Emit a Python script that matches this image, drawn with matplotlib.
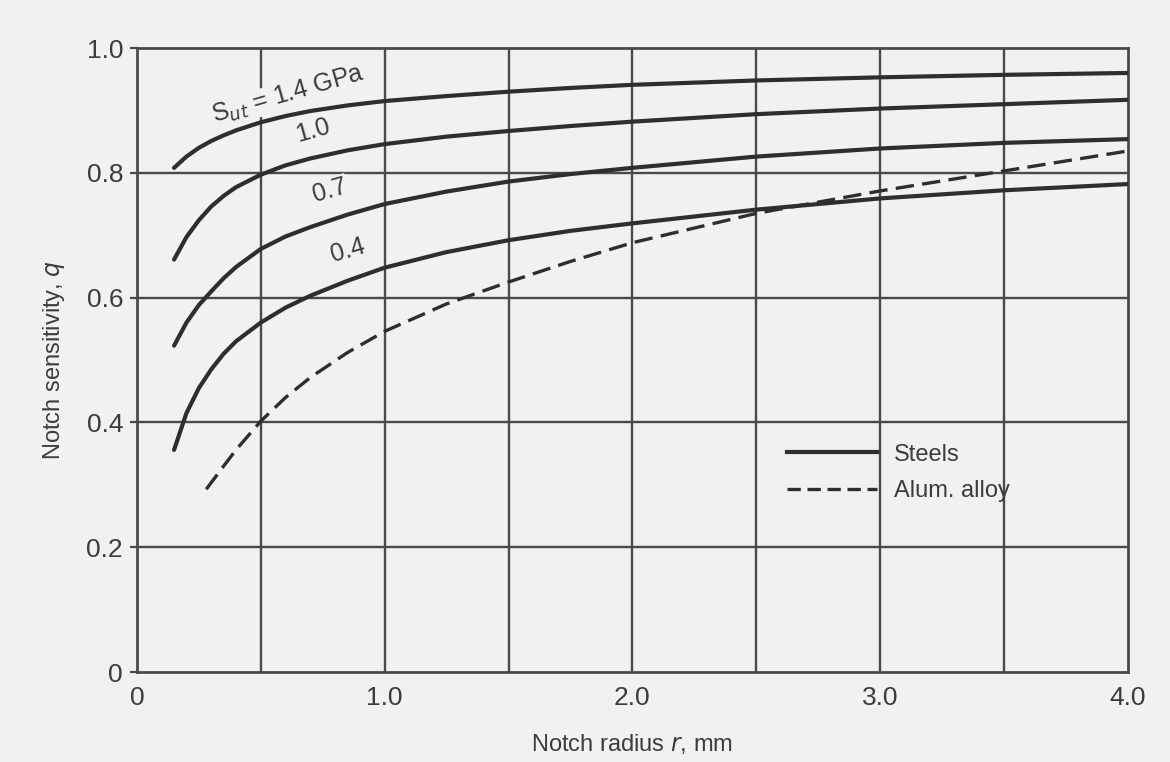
import numpy as np
import matplotlib
matplotlib.use("Agg")
import matplotlib.pyplot as plt

""" ---------------- data read off the chart ---------------- """
# notch radius r (mm) for the steel curves
r_steel = [0.15, 0.20, 0.25, 0.30, 0.35, 0.40, 0.50, 0.60, 0.70, 0.85,
           1.0, 1.25, 1.5, 1.75, 2.0, 2.5, 3.0, 3.5, 4.0]

# notch sensitivity q, one list per ultimate strength
q_14 = [0.808, 0.826, 0.840, 0.851, 0.860, 0.868, 0.881, 0.891, 0.899, 0.908,
        0.915, 0.923, 0.930, 0.936, 0.941, 0.948, 0.953, 0.957, 0.960]
q_10 = [0.661, 0.697, 0.724, 0.746, 0.763, 0.777, 0.797, 0.812, 0.823, 0.836,
        0.846, 0.858, 0.867, 0.875, 0.882, 0.894, 0.903, 0.910, 0.917]
q_07 = [0.523, 0.560, 0.588, 0.610, 0.631, 0.649, 0.678, 0.698, 0.713, 0.733,
        0.750, 0.770, 0.786, 0.798, 0.808, 0.826, 0.839, 0.848, 0.854]
q_04 = [0.356, 0.415, 0.455, 0.485, 0.510, 0.530, 0.560, 0.584, 0.603, 0.627,
        0.648, 0.673, 0.692, 0.707, 0.719, 0.741, 0.759, 0.772, 0.782]

# aluminium alloy (dashed)
r_alum = [0.28, 0.35, 0.40, 0.50, 0.60, 0.70, 0.85, 1.0, 1.25, 1.5, 1.75,
          2.0, 2.5, 3.0, 3.5, 4.0]
q_alum = [0.293, 0.330, 0.356, 0.402, 0.440, 0.472, 0.512, 0.546, 0.590, 0.625,
          0.658, 0.688, 0.735, 0.771, 0.803, 0.835]

curve_labels = [r'S$_{ut}$ = 1.4 GPa', '1.0', '0.7', '0.4']
label_pos = [(0.61, 0.925), (0.71, 0.868), (0.78, 0.772), (0.85, 0.676)]

x_ticks = [0, 1.0, 2.0, 3.0, 4.0]
x_ticklabels = ['0', '1.0', '2.0', '3.0', '4.0']
y_ticks = [0, 0.2, 0.4, 0.6, 0.8, 1.0]
y_ticklabels = ['0', '0.2', '0.4', '0.6', '0.8', '1.0']

""" ---------------- plot ---------------- """
bg = '#f1f1f1'
ink = '#2e2e2e'
txt = '#3c3c3c'
plt.rcParams['font.family'] = ['Liberation Sans', 'DejaVu Sans']

fig = plt.figure(figsize=(11.7, 7.62), dpi=100, facecolor=bg)
ax = fig.add_axes([0.117, 0.118, 0.847, 0.819], facecolor=bg)

# grid
for gx in np.arange(0.5, 4.0, 0.5):
    ax.axvline(gx, color='#4a4a4a', lw=1.7, zorder=1)
for gy in np.arange(0.2, 1.0, 0.2):
    ax.axhline(gy, color='#4a4a4a', lw=1.7, zorder=1)

for q in [q_14, q_10, q_07, q_04]:
    ax.plot(r_steel, q, color=ink, lw=3.0, solid_capstyle='round',
            solid_joinstyle='round', zorder=3)
ax.plot(r_alum, q_alum, color=ink, lw=2.4, dashes=(5.5, 2.5), zorder=3)

for lab, (lx, ly) in zip(curve_labels, label_pos):
    ax.text(lx, ly, lab, fontsize=18, color=txt, rotation=16,
            ha='center', va='center', zorder=4,
            bbox=dict(facecolor=bg, edgecolor='none', pad=0.5))

# legend
h1, = ax.plot([], [], color=ink, lw=3.0, label='Steels')
h2, = ax.plot([], [], color=ink, lw=2.4, dashes=(4, 2), label='Alum. alloy')
leg = ax.legend(handles=[h1, h2], loc='upper left', bbox_to_anchor=(0.635, 0.40),
                frameon=False, fontsize=17, handlelength=3.8, handletextpad=0.7,
                labelspacing=0.6, labelcolor=txt)

ax.set_xlim(0, 4.0)
ax.set_ylim(0, 1.0)
ax.set_xticks(x_ticks)
ax.set_xticklabels(x_ticklabels)
ax.set_yticks(y_ticks)
ax.set_yticklabels(y_ticklabels)
ax.tick_params(axis='x', length=0, pad=10, labelsize=19, labelcolor=txt)
ax.tick_params(axis='y', length=5, width=1.6, color='#4a4a4a', pad=5,
               labelsize=19, labelcolor=txt)
for s in ax.spines.values():
    s.set_linewidth(2.0)
    s.set_color('#4a4a4a')

ax.set_xlabel(r'Notch radius $r$, mm', fontsize=17, color=txt, labelpad=16)
ax.set_ylabel(r'Notch sensitivity, $q$', fontsize=17, color=txt, labelpad=14)

fig.savefig('out.png', dpi=100, facecolor=bg)
